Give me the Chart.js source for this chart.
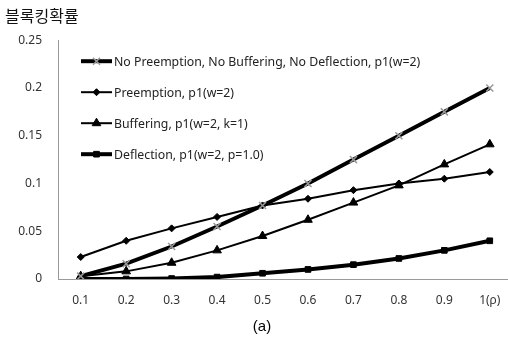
<!DOCTYPE html>
<html><head><meta charset="utf-8">
<script src="https://cdn.jsdelivr.net/npm/chart.js@4/dist/chart.umd.min.js"></script>
<style>html,body{margin:0;padding:0;background:#fff;overflow:hidden}#wrap{width:508px;height:354px;position:relative;overflow:hidden}canvas{display:block}</style>
</head><body><div id="wrap"><canvas id="c" width="519" height="354" style="width:519px;height:354px"></canvas></div>
<script>
const categories = ['0.1','0.2','0.3','0.4','0.5','0.6','0.7','0.8','0.9','1(ρ)'];
const noPreemption = [0.003,0.016,0.034,0.055,0.077,0.100,0.125,0.150,0.175,0.200];
const preemption   = [0.023,0.040,0.053,0.065,0.077,0.084,0.093,0.100,0.105,0.112];
const buffering    = [0.003,0.008,0.017,0.030,0.045,0.062,0.080,0.098,0.120,0.141];
const deflection   = [0.000,0.000,0.0005,0.002,0.006,0.010,0.015,0.0215,0.030,0.040];
const seriesNames = ['No Preemption, No Buffering, No Deflection, p1(w=2)','Preemption, p1(w=2)','Buffering, p1(w=2, k=1)','Deflection, p1(w=2, p=1.0)'];
const yTicks = [0,0.05,0.1,0.15,0.2,0.25];

const legendPlugin = {
  id:'inlegend',
  afterDraw(chart){
    const ctx = chart.ctx, a = chart.chartArea;
    chart.data.datasets.forEach((ds,i)=>{
      const y = a.top + 21 + i*31;
      const x0 = a.left + 23, x1 = x0 + 31;
      ctx.save();
      ctx.strokeStyle = ds.borderColor; ctx.lineWidth = ds.borderWidth;
      ctx.beginPath(); ctx.moveTo(x0,y); ctx.lineTo(x1,y); ctx.stroke();
      ctx.fillStyle = ds.pointBackgroundColor; ctx.strokeStyle = ds.pointBorderColor; ctx.lineWidth = ds.pointBorderWidth;
      Chart.helpers.drawPoint(ctx,{pointStyle:ds.pointStyle,radius:ds.pointRadius,borderWidth:ds.pointBorderWidth,rotation:0},(x0+x1)/2,y);
      ctx.fillStyle='#222'; ctx.font='12.3px "Noto Sans", sans-serif'; ctx.textBaseline='middle'; ctx.textAlign='left';
      ctx.fillText(ds.label, x1+2, y+1);
      ctx.restore();
    });
  }
};

function mk(label,data,w,style,r,col){
  return {label,data,borderColor:'#000',borderWidth:w,pointStyle:style,pointRadius:r,pointHoverRadius:r,
    pointBackgroundColor:col,pointBorderColor:col,pointBorderWidth:style==='crossRot'?1.5:1,tension:0};
}

new Chart(document.getElementById('c'),{
  type:'line',
  data:{labels:categories,datasets:[
    mk(seriesNames[0],noPreemption,4,'crossRot',5,'#999'),
    mk(seriesNames[1],preemption,2,'rectRot',3.5,'#000'),
    mk(seriesNames[2],buffering,2,'triangle',5,'#000'),
    mk(seriesNames[3],deflection,4,'rect',4,'#000')
  ]},
  options:{
    responsive:false,animation:false,
    layout:{padding:{left:5,right:0,top:0,bottom:4}},
    plugins:{
      legend:{display:false},tooltip:{enabled:false},
      title:{display:true,text:'블록킹확률',align:'start',color:'#111',font:{size:16,family:'"Noto Sans CJK KR", sans-serif',weight:'normal',lineHeight:1.2},padding:{top:6,bottom:15}},
      subtitle:{display:true,position:'bottom',text:'(a)',color:'#000',font:{size:15,family:'Arial, "Liberation Sans", sans-serif',lineHeight:1.2},padding:{top:11,bottom:14}}
    },
    scales:{
      x:{offset:true,grid:{display:false,drawTicks:false},border:{display:true,color:'#999'},
         afterFit(s){s.height=28;s.paddingLeft=0;s.paddingRight=0;},
         ticks:{color:'#333',padding:14,maxRotation:0,font:{size:12,family:'"Noto Sans", sans-serif'}}},
      y:{min:0,max:0.25,grid:{display:false,drawTicks:false},border:{display:true,color:'#999'},
         afterFit(s){s.width=53;s.paddingTop=0;s.paddingBottom=0;},
         afterBuildTicks(s){s.ticks=yTicks.map(v=>({value:v}));},
         ticks:{color:'#333',padding:16,font:{size:12,family:'"Noto Sans", sans-serif'},callback:v=>String(+v.toFixed(2))}}
    }
  },
  plugins:[legendPlugin]
});
</script></body></html>
